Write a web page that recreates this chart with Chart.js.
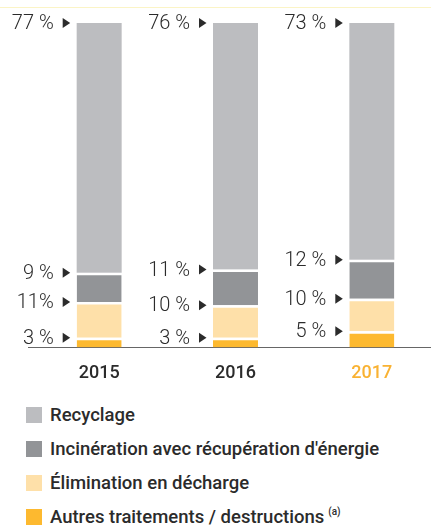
<!DOCTYPE html>
<html lang="fr">
<head>
    <meta charset="UTF-8" />
    <title>Traitement des déchets</title>
    <script src="https://cdn.jsdelivr.net/npm/chart.js"></script>
    <style>
        body { margin: 0; background: #fff; overflow: hidden; font-family: Roboto, sans-serif; }
        .topline { position: absolute; top: 7px; left: 0; width: 431px; border-top: 1px solid #fbf4c6; }
        .chart-box { position: relative; width: 440px; height: 399px; }
        #legend { list-style: none; margin: -1px 0 0 0; padding: 0 0 0 26px; }
        #legend li { display: flex; align-items: center; height: 34px; font-size: 18.5px; font-weight: 500; color: #2b2b2b; }
        #legend .box { width: 16px; height: 16px; margin-right: 8px; }
        #legend sup { font-size: 10px; margin-left: 4px; align-self: flex-start; margin-top: 6px; }
    </style>
</head>
<body>
    <div class="topline"></div>
    <div class="chart-box">
        <canvas id="wasteChart"></canvas>
    </div>
    <ul id="legend"></ul>

    <script>
        const years = ["2015", "2016", "2017"];

        const autres = [3, 3, 5];
        const elimination = [11, 10, 10];
        const incineration = [9, 11, 12];
        const recyclage = [77, 76, 73];

        const autresLabels = ["3 %", "3 %", "5 %"];
        const eliminationLabels = ["11%", "10 %", "10 %"];
        const incinerationLabels = ["9 %", "11 %", "12 %"];
        const recyclageLabels = ["77 %", "76 %", "73 %"];

        const datasets = [
            { label: "Autres traitements / destructions", data: autres, backgroundColor: "#fdb92f", valueLabels: autresLabels, sup: "(a)" },
            { label: "Élimination en décharge", data: elimination, backgroundColor: "#fee0a9", valueLabels: eliminationLabels },
            { label: "Incinération avec récupération d'énergie", data: incineration, backgroundColor: "#929497", valueLabels: incinerationLabels },
            { label: "Recyclage", data: recyclage, backgroundColor: "#bcbdc0", valueLabels: recyclageLabels }
        ];

        datasets.forEach((ds, i) => {
            ds.borderColor = "#ffffff";
            ds.borderWidth = i === 3 ? 0 : { top: 2.5, bottom: 0, left: 0, right: 0 };
            ds.borderSkipped = false;
            ds.barPercentage = 0.33;
            ds.categoryPercentage = 1;
        });

        // base line under the bars
        const baseLine = {
            id: "baseLine",
            beforeDatasetsDraw(chart) {
                const { ctx, chartArea } = chart;
                const y = Math.round(chartArea.bottom) + 0.5;
                ctx.save();
                ctx.strokeStyle = "#666";
                ctx.lineWidth = 1;
                ctx.beginPath();
                ctx.moveTo(chartArea.left - 3, y);
                ctx.lineTo(chart.width, y);
                ctx.stroke();
                ctx.restore();
            }
        };

        // labels to the left of each segment, with a small arrow
        const sideLabels = {
            id: "sideLabels",
            afterDatasetsDraw(chart) {
                const ctx = chart.ctx;
                ctx.save();
                ctx.font = "300 20px Roboto";
                ctx.fillStyle = "#2b2b2b";
                ctx.textAlign = "right";
                ctx.textBaseline = "middle";
                chart.data.datasets.forEach((ds, i) => {
                    chart.getDatasetMeta(i).data.forEach((bar, j) => {
                        const left = bar.x - bar.width / 2;
                        const y = bar.y;
                        ctx.beginPath();
                        ctx.moveTo(left - 14, y - 5);
                        ctx.lineTo(left - 6.5, y);
                        ctx.lineTo(left - 14, y + 5);
                        ctx.closePath();
                        ctx.fill();
                        ctx.fillText(ds.valueLabels[j], left - 23, y + 1);
                    });
                });
                ctx.restore();
            }
        };

        new Chart(document.getElementById("wasteChart"), {
            type: "bar",
            data: { labels: years, datasets: datasets },
            options: {
                responsive: true,
                maintainAspectRatio: false,
                animation: false,
                layout: { padding: { left: 31, right: 0, top: 23, bottom: 0 } },
                plugins: {
                    legend: { display: false },
                    tooltip: { enabled: false }
                },
                scales: {
                    x: {
                        stacked: true,
                        grid: { display: false, drawTicks: false },
                        border: { display: false },
                        ticks: {
                            padding: 15,
                            font: { family: "Roboto", size: 18, weight: "500" },
                            color: (c) => c.index === 2 ? "#f9b233" : "#2b2b2b"
                        }
                    },
                    y: {
                        stacked: true,
                        display: false,
                        min: 0,
                        max: 100
                    }
                }
            },
            plugins: [baseLine, sideLabels]
        });

        const legend = document.getElementById("legend");
        datasets.slice().reverse().forEach(ds => {
            const li = document.createElement("li");
            li.innerHTML = `<span class="box" style="background:${ds.backgroundColor}"></span>${ds.label}` +
                (ds.sup ? `<sup>${ds.sup}</sup>` : "");
            legend.appendChild(li);
        });
    </script>
</body>
</html>
